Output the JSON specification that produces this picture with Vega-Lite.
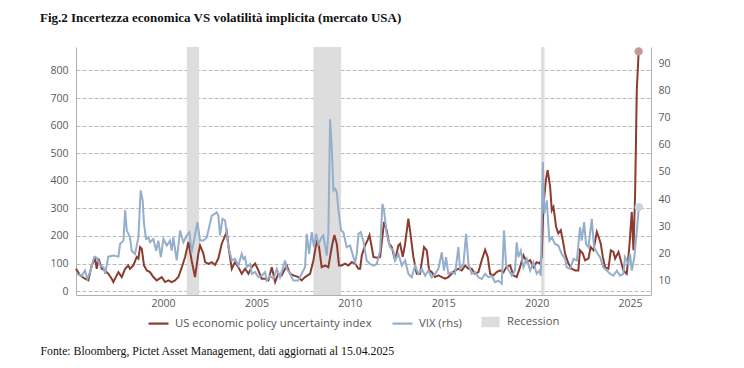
{
  "$schema": "https://vega.github.io/schema/vega-lite/v6.json",
  "width": 575,
  "height": 248,
  "autosize": {"type": "none"},
  "padding": {"left": 76, "top": 47, "right": 93, "bottom": 73},
  "background": "white",
  "title": {
    "text": "Fig.2 Incertezza economica VS volatilità implicita (mercato USA)",
    "anchor": "start",
    "frame": "group",
    "dx": -36,
    "offset": 22,
    "font": "Liberation Serif",
    "fontSize": 13,
    "fontWeight": "bold",
    "color": "#111111"
  },
  "config": {
    "view": {"stroke": null},
    "axis": {
      "labelFont": "Open Sans",
      "labelFontSize": 10.5,
      "labelColor": "#5a5a5a",
      "ticks": false,
      "domainColor": "#b0b0b0",
      "domainWidth": 1,
      "grid": false
    },
    "legend": {
      "orient": "none",
      "legendX": 71,
      "legendY": 263,
      "direction": "horizontal",
      "symbolType": "stroke",
      "symbolSize": 400,
      "symbolStrokeWidth": 2.2,
      "labelFont": "Open Sans",
      "labelFontSize": 11.3,
      "labelColor": "#555555",
      "labelOffset": 5,
      "labelLimit": 300,
      "columnPadding": 16,
      "title": null
    }
  },
  "datasets": {
    "rec": [
      {"t": 2001.27, "t2": 2001.93},
      {"t": 2008.05, "t2": 2009.53},
      {"t": 2020.24, "t2": 2020.42}
    ],
    "epu": [
      {"t": 1995.34, "v": 81}, {"t": 1995.56, "v": 57}, {"t": 1995.82, "v": 45}, {"t": 1996.0, "v": 39},
      {"t": 1996.18, "v": 93}, {"t": 1996.36, "v": 118}, {"t": 1996.45, "v": 81}, {"t": 1996.54, "v": 118},
      {"t": 1996.72, "v": 81}, {"t": 1996.9, "v": 75}, {"t": 1997.07, "v": 63}, {"t": 1997.25, "v": 45},
      {"t": 1997.34, "v": 33}, {"t": 1997.52, "v": 57}, {"t": 1997.61, "v": 69}, {"t": 1997.79, "v": 51},
      {"t": 1997.97, "v": 81}, {"t": 1998.14, "v": 93}, {"t": 1998.23, "v": 81}, {"t": 1998.41, "v": 93},
      {"t": 1998.59, "v": 124}, {"t": 1998.68, "v": 118}, {"t": 1998.77, "v": 160}, {"t": 1998.86, "v": 154},
      {"t": 1998.98, "v": 93}, {"t": 1999.13, "v": 75}, {"t": 1999.3, "v": 69}, {"t": 1999.48, "v": 51},
      {"t": 1999.66, "v": 39}, {"t": 1999.93, "v": 51}, {"t": 2000.11, "v": 33}, {"t": 2000.29, "v": 39},
      {"t": 2000.46, "v": 33}, {"t": 2000.64, "v": 39}, {"t": 2000.82, "v": 51}, {"t": 2001.0, "v": 85},
      {"t": 2001.18, "v": 124}, {"t": 2001.36, "v": 178}, {"t": 2001.53, "v": 111}, {"t": 2001.71, "v": 51},
      {"t": 2001.89, "v": 136}, {"t": 2001.98, "v": 166}, {"t": 2002.16, "v": 136}, {"t": 2002.25, "v": 105},
      {"t": 2002.43, "v": 99}, {"t": 2002.61, "v": 105}, {"t": 2002.78, "v": 95}, {"t": 2002.96, "v": 118},
      {"t": 2003.14, "v": 172}, {"t": 2003.41, "v": 215}, {"t": 2003.53, "v": 148}, {"t": 2003.68, "v": 81},
      {"t": 2003.85, "v": 105}, {"t": 2004.03, "v": 87}, {"t": 2004.21, "v": 63}, {"t": 2004.39, "v": 81},
      {"t": 2004.57, "v": 63}, {"t": 2004.75, "v": 87}, {"t": 2004.93, "v": 100}, {"t": 2005.1, "v": 75},
      {"t": 2005.28, "v": 45}, {"t": 2005.46, "v": 45}, {"t": 2005.64, "v": 39}, {"t": 2005.82, "v": 87},
      {"t": 2006.0, "v": 33}, {"t": 2006.17, "v": 63}, {"t": 2006.35, "v": 57}, {"t": 2006.62, "v": 93},
      {"t": 2006.8, "v": 63}, {"t": 2006.98, "v": 57}, {"t": 2007.24, "v": 51}, {"t": 2007.42, "v": 39},
      {"t": 2007.6, "v": 51}, {"t": 2007.87, "v": 63}, {"t": 2008.05, "v": 112}, {"t": 2008.23, "v": 184},
      {"t": 2008.35, "v": 160}, {"t": 2008.49, "v": 87}, {"t": 2008.67, "v": 93}, {"t": 2008.85, "v": 87},
      {"t": 2009.03, "v": 160}, {"t": 2009.17, "v": 203}, {"t": 2009.3, "v": 172}, {"t": 2009.42, "v": 93},
      {"t": 2009.56, "v": 93}, {"t": 2009.74, "v": 100}, {"t": 2009.92, "v": 93}, {"t": 2010.1, "v": 105},
      {"t": 2010.28, "v": 100}, {"t": 2010.46, "v": 81}, {"t": 2010.55, "v": 81}, {"t": 2010.64, "v": 130},
      {"t": 2010.81, "v": 165}, {"t": 2010.95, "v": 185}, {"t": 2011.05, "v": 203}, {"t": 2011.17, "v": 160},
      {"t": 2011.26, "v": 124}, {"t": 2011.44, "v": 121}, {"t": 2011.62, "v": 124}, {"t": 2011.74, "v": 196},
      {"t": 2011.83, "v": 251}, {"t": 2011.97, "v": 221}, {"t": 2012.1, "v": 172}, {"t": 2012.24, "v": 160},
      {"t": 2012.42, "v": 112}, {"t": 2012.6, "v": 166}, {"t": 2012.69, "v": 172}, {"t": 2012.83, "v": 124},
      {"t": 2012.96, "v": 172}, {"t": 2013.13, "v": 263}, {"t": 2013.22, "v": 221}, {"t": 2013.4, "v": 124},
      {"t": 2013.58, "v": 63}, {"t": 2013.76, "v": 63}, {"t": 2013.97, "v": 160}, {"t": 2014.12, "v": 148},
      {"t": 2014.24, "v": 75}, {"t": 2014.38, "v": 69}, {"t": 2014.56, "v": 51}, {"t": 2014.74, "v": 57},
      {"t": 2014.92, "v": 51}, {"t": 2015.1, "v": 45}, {"t": 2015.27, "v": 51}, {"t": 2015.45, "v": 63},
      {"t": 2015.63, "v": 75}, {"t": 2015.81, "v": 81}, {"t": 2015.99, "v": 75}, {"t": 2016.17, "v": 93},
      {"t": 2016.35, "v": 81}, {"t": 2016.52, "v": 81}, {"t": 2016.7, "v": 63}, {"t": 2016.88, "v": 69},
      {"t": 2017.06, "v": 112}, {"t": 2017.24, "v": 150}, {"t": 2017.38, "v": 124}, {"t": 2017.51, "v": 63},
      {"t": 2017.68, "v": 57}, {"t": 2017.86, "v": 69}, {"t": 2018.04, "v": 75}, {"t": 2018.22, "v": 68},
      {"t": 2018.4, "v": 90}, {"t": 2018.58, "v": 93}, {"t": 2018.75, "v": 57}, {"t": 2018.93, "v": 51},
      {"t": 2019.11, "v": 87}, {"t": 2019.29, "v": 130}, {"t": 2019.47, "v": 105}, {"t": 2019.65, "v": 112},
      {"t": 2019.83, "v": 87}, {"t": 2020.0, "v": 105}, {"t": 2020.18, "v": 100}, {"t": 2020.27, "v": 124},
      {"t": 2020.36, "v": 305}, {"t": 2020.49, "v": 402}, {"t": 2020.59, "v": 439}, {"t": 2020.72, "v": 378},
      {"t": 2020.81, "v": 293}, {"t": 2020.9, "v": 305}, {"t": 2021.04, "v": 233}, {"t": 2021.16, "v": 209},
      {"t": 2021.29, "v": 221}, {"t": 2021.4, "v": 184}, {"t": 2021.52, "v": 136}, {"t": 2021.7, "v": 100},
      {"t": 2021.88, "v": 81}, {"t": 2022.06, "v": 75}, {"t": 2022.23, "v": 75}, {"t": 2022.32, "v": 148},
      {"t": 2022.47, "v": 136}, {"t": 2022.59, "v": 112}, {"t": 2022.77, "v": 118}, {"t": 2022.89, "v": 160},
      {"t": 2023.04, "v": 148}, {"t": 2023.22, "v": 215}, {"t": 2023.32, "v": 196}, {"t": 2023.43, "v": 172},
      {"t": 2023.54, "v": 124}, {"t": 2023.66, "v": 87}, {"t": 2023.84, "v": 81}, {"t": 2023.97, "v": 148},
      {"t": 2024.11, "v": 142}, {"t": 2024.2, "v": 118}, {"t": 2024.38, "v": 142}, {"t": 2024.5, "v": 112},
      {"t": 2024.64, "v": 75}, {"t": 2024.82, "v": 63}, {"t": 2024.96, "v": 160}, {"t": 2025.09, "v": 287},
      {"t": 2025.18, "v": 148}, {"t": 2025.27, "v": 354}, {"t": 2025.36, "v": 730}, {"t": 2025.46, "v": 869}
    ],
    "vix": [
      {"t": 1995.34, "v": 12.5}, {"t": 1995.65, "v": 11.8}, {"t": 1995.82, "v": 13.7}, {"t": 1995.95, "v": 10.6},
      {"t": 1996.09, "v": 13.1}, {"t": 1996.31, "v": 18.6}, {"t": 1996.45, "v": 18.4}, {"t": 1996.63, "v": 15.5},
      {"t": 1996.81, "v": 14.9}, {"t": 1996.9, "v": 12.5}, {"t": 1997.07, "v": 18.8}, {"t": 1997.34, "v": 19.2},
      {"t": 1997.61, "v": 18.8}, {"t": 1997.7, "v": 23.5}, {"t": 1997.88, "v": 24.7}, {"t": 1997.97, "v": 35.8},
      {"t": 1998.06, "v": 28.4}, {"t": 1998.23, "v": 25.9}, {"t": 1998.32, "v": 21.0}, {"t": 1998.5, "v": 19.8},
      {"t": 1998.68, "v": 25.9}, {"t": 1998.8, "v": 43.1}, {"t": 1998.91, "v": 39.5}, {"t": 1998.98, "v": 30.9},
      {"t": 1999.09, "v": 25.3}, {"t": 1999.21, "v": 25.9}, {"t": 1999.3, "v": 24.1}, {"t": 1999.48, "v": 25.3},
      {"t": 1999.63, "v": 21.0}, {"t": 1999.75, "v": 24.7}, {"t": 1999.88, "v": 18.6}, {"t": 2000.02, "v": 25.3},
      {"t": 2000.2, "v": 22.9}, {"t": 2000.37, "v": 24.7}, {"t": 2000.46, "v": 21.0}, {"t": 2000.55, "v": 25.9},
      {"t": 2000.73, "v": 17.4}, {"t": 2000.91, "v": 28.4}, {"t": 2001.09, "v": 24.1}, {"t": 2001.27, "v": 26.6},
      {"t": 2001.41, "v": 27.8}, {"t": 2001.53, "v": 20.4}, {"t": 2001.71, "v": 26.6}, {"t": 2001.84, "v": 31.5},
      {"t": 2001.98, "v": 24.7}, {"t": 2002.16, "v": 24.7}, {"t": 2002.34, "v": 25.9}, {"t": 2002.61, "v": 33.9},
      {"t": 2002.78, "v": 34.6}, {"t": 2002.87, "v": 35.1}, {"t": 2002.96, "v": 33.9}, {"t": 2003.05, "v": 26.6},
      {"t": 2003.18, "v": 32.7}, {"t": 2003.32, "v": 32.1}, {"t": 2003.41, "v": 27.2}, {"t": 2003.5, "v": 22.3},
      {"t": 2003.68, "v": 17.4}, {"t": 2003.85, "v": 18.0}, {"t": 2004.03, "v": 15.5}, {"t": 2004.21, "v": 19.8},
      {"t": 2004.3, "v": 18.0}, {"t": 2004.39, "v": 18.6}, {"t": 2004.48, "v": 14.9}, {"t": 2004.66, "v": 16.1},
      {"t": 2004.75, "v": 12.5}, {"t": 2004.93, "v": 13.1}, {"t": 2005.1, "v": 11.2}, {"t": 2005.28, "v": 11.8},
      {"t": 2005.46, "v": 13.1}, {"t": 2005.55, "v": 10.0}, {"t": 2005.73, "v": 11.8}, {"t": 2005.91, "v": 10.6},
      {"t": 2006.09, "v": 14.3}, {"t": 2006.26, "v": 11.2}, {"t": 2006.53, "v": 17.4}, {"t": 2006.62, "v": 14.3},
      {"t": 2006.8, "v": 12.5}, {"t": 2006.98, "v": 10.0}, {"t": 2007.24, "v": 10.0}, {"t": 2007.42, "v": 12.5},
      {"t": 2007.6, "v": 14.9}, {"t": 2007.69, "v": 27.2}, {"t": 2007.82, "v": 19.8}, {"t": 2007.96, "v": 27.8},
      {"t": 2008.08, "v": 22.3}, {"t": 2008.19, "v": 27.2}, {"t": 2008.32, "v": 23.5}, {"t": 2008.49, "v": 25.9},
      {"t": 2008.58, "v": 26.6}, {"t": 2008.76, "v": 19.2}, {"t": 2008.85, "v": 27.2}, {"t": 2008.94, "v": 69.3},
      {"t": 2009.03, "v": 59.1}, {"t": 2009.12, "v": 43.1}, {"t": 2009.21, "v": 43.8}, {"t": 2009.3, "v": 42.5},
      {"t": 2009.39, "v": 35.8}, {"t": 2009.53, "v": 28.4}, {"t": 2009.65, "v": 27.8}, {"t": 2009.83, "v": 22.3},
      {"t": 2010.01, "v": 22.9}, {"t": 2010.19, "v": 18.6}, {"t": 2010.28, "v": 16.7}, {"t": 2010.37, "v": 19.8},
      {"t": 2010.46, "v": 27.2}, {"t": 2010.58, "v": 27.8}, {"t": 2010.72, "v": 24.7}, {"t": 2010.9, "v": 17.4},
      {"t": 2011.08, "v": 16.1}, {"t": 2011.26, "v": 15.5}, {"t": 2011.44, "v": 16.1}, {"t": 2011.62, "v": 21.0},
      {"t": 2011.74, "v": 38.2}, {"t": 2011.83, "v": 35.8}, {"t": 2011.97, "v": 27.2}, {"t": 2012.15, "v": 22.3},
      {"t": 2012.33, "v": 21.0}, {"t": 2012.42, "v": 17.4}, {"t": 2012.6, "v": 19.8}, {"t": 2012.78, "v": 15.5},
      {"t": 2012.96, "v": 17.4}, {"t": 2013.13, "v": 12.5}, {"t": 2013.31, "v": 11.2}, {"t": 2013.49, "v": 15.5},
      {"t": 2013.67, "v": 12.5}, {"t": 2013.85, "v": 14.3}, {"t": 2014.03, "v": 11.8}, {"t": 2014.2, "v": 13.7},
      {"t": 2014.38, "v": 11.2}, {"t": 2014.56, "v": 12.5}, {"t": 2014.74, "v": 14.3}, {"t": 2014.92, "v": 20.4},
      {"t": 2015.04, "v": 13.7}, {"t": 2015.15, "v": 18.6}, {"t": 2015.27, "v": 12.5}, {"t": 2015.45, "v": 13.1},
      {"t": 2015.63, "v": 12.5}, {"t": 2015.81, "v": 22.3}, {"t": 2015.9, "v": 14.3}, {"t": 2016.08, "v": 16.1},
      {"t": 2016.22, "v": 27.2}, {"t": 2016.35, "v": 16.1}, {"t": 2016.52, "v": 12.5}, {"t": 2016.7, "v": 13.1},
      {"t": 2016.88, "v": 11.2}, {"t": 2017.06, "v": 10.6}, {"t": 2017.24, "v": 12.5}, {"t": 2017.42, "v": 11.2},
      {"t": 2017.59, "v": 11.8}, {"t": 2017.77, "v": 9.4}, {"t": 2017.95, "v": 10.0}, {"t": 2018.13, "v": 8.8},
      {"t": 2018.25, "v": 28.4}, {"t": 2018.36, "v": 16.1}, {"t": 2018.49, "v": 14.0}, {"t": 2018.67, "v": 11.8},
      {"t": 2018.84, "v": 13.7}, {"t": 2018.93, "v": 24.1}, {"t": 2019.02, "v": 18.6}, {"t": 2019.15, "v": 21.0},
      {"t": 2019.29, "v": 14.9}, {"t": 2019.47, "v": 18.0}, {"t": 2019.65, "v": 13.7}, {"t": 2019.83, "v": 16.7},
      {"t": 2020.0, "v": 12.5}, {"t": 2020.15, "v": 13.7}, {"t": 2020.22, "v": 11.8}, {"t": 2020.33, "v": 53.6},
      {"t": 2020.41, "v": 34.6}, {"t": 2020.54, "v": 39.5}, {"t": 2020.68, "v": 24.7}, {"t": 2020.81, "v": 25.9},
      {"t": 2020.98, "v": 23.5}, {"t": 2021.16, "v": 22.9}, {"t": 2021.34, "v": 19.8}, {"t": 2021.52, "v": 18.0},
      {"t": 2021.61, "v": 14.9}, {"t": 2021.79, "v": 14.3}, {"t": 2021.97, "v": 18.0}, {"t": 2022.15, "v": 17.4},
      {"t": 2022.32, "v": 29.6}, {"t": 2022.41, "v": 24.7}, {"t": 2022.54, "v": 31.5}, {"t": 2022.64, "v": 23.5},
      {"t": 2022.77, "v": 22.3}, {"t": 2022.95, "v": 32.7}, {"t": 2023.07, "v": 22.3}, {"t": 2023.22, "v": 20.4},
      {"t": 2023.39, "v": 18.6}, {"t": 2023.57, "v": 14.9}, {"t": 2023.75, "v": 13.7}, {"t": 2023.93, "v": 12.5},
      {"t": 2024.11, "v": 11.8}, {"t": 2024.29, "v": 13.7}, {"t": 2024.46, "v": 11.8}, {"t": 2024.64, "v": 12.5},
      {"t": 2024.73, "v": 18.6}, {"t": 2024.91, "v": 16.1}, {"t": 2025.0, "v": 19.8}, {"t": 2025.09, "v": 13.7},
      {"t": 2025.23, "v": 18.6}, {"t": 2025.36, "v": 28.4}, {"t": 2025.47, "v": 37.0}
    ]
  },
  "resolve": {"scale": {"y": "independent"}, "axis": {"y": "independent"}},
  "layer": [
    {
      "data": {"name": "rec"},
      "mark": {"type": "rect"},
      "encoding": {
        "x": {
          "field": "t", "type": "quantitative",
          "scale": {"domain": [1995.34, 2026.12], "nice": false, "zero": false},
          "axis": {
            "values": [2000, 2005, 2010, 2015, 2020, 2025], "format": "d", "labelPadding": 3,
            "title": "Fonte: Bloomberg, Pictet Asset Management, dati aggiornati al 15.04.2025",
            "titleFont": "Liberation Serif", "titleFontSize": 11.8, "titleFontWeight": "normal", "titleColor": "#111111",
            "titleAnchor": "start", "titleAlign": "left", "titleX": -36, "titleY": 59, "titleBaseline": "alphabetic"
          }
        },
        "x2": {"field": "t2"},
        "color": {
          "datum": "Recession",
          "scale": {
            "domain": ["US economic policy uncertainty index", "VIX (rhs)", "Recession"],
            "range": ["#8c3b2f", "#94aecb", "#dddddd"]
          },
          "legend": {
            "encode": {
              "symbols": {
                "update": {
                  "shape": {"signal": "datum.value === 'Recession' ? 'M-0.8,-0.42H0.8V0.42H-0.8Z' : 'stroke'"},
                  "fill": {"signal": "datum.value === 'Recession' ? '#dddddd' : 'transparent'"},
                  "stroke": {"signal": "datum.value === 'Recession' ? 'transparent' : scale('color', datum.value)"},
                  "strokeWidth": {"value": 2.2},
                  "opacity": {"value": 1}
                }
              }
            }
          }
        }
      }
    },
    {
      "data": {"name": "epu"},
      "encoding": {
        "x": {"field": "t", "type": "quantitative", "scale": {"domain": [1995.34, 2026.12], "nice": false, "zero": false}},
        "y": {
          "field": "v", "type": "quantitative",
          "scale": {"domain": [-14, 885], "nice": false, "zero": false},
          "axis": {
            "orient": "left", "values": [0, 100, 200, 300, 400, 500, 600, 700, 800], "title": null,
            "grid": true, "gridDash": [4, 2], "gridColor": "#a8a8a8", "gridWidth": 0.8, "labelPadding": 8
          }
        }
      },
      "layer": [
        {
          "mark": {"type": "line", "strokeWidth": 2, "interpolate": "linear"},
          "encoding": {"color": {"datum": "US economic policy uncertainty index"}}
        },
        {
          "transform": [{"filter": "datum.t > 2025.4"}],
          "mark": {"type": "circle", "size": 70, "color": "#c49b94", "opacity": 1}
        }
      ]
    },
    {
      "data": {"name": "vix"},
      "encoding": {
        "x": {"field": "t", "type": "quantitative", "scale": {"domain": [1995.34, 2026.12], "nice": false, "zero": false}},
        "y": {
          "field": "v", "type": "quantitative",
          "scale": {"domain": [4.7, 95.9], "nice": false, "zero": false},
          "axis": {
            "orient": "right", "values": [10, 20, 30, 40, 50, 60, 70, 80, 90], "title": null,
            "grid": false, "labelPadding": 7
          }
        }
      },
      "layer": [
        {
          "mark": {"type": "line", "strokeWidth": 2, "interpolate": "linear"},
          "encoding": {"color": {"datum": "VIX (rhs)"}}
        },
        {
          "transform": [{"filter": "datum.t > 2025.4"}],
          "mark": {"type": "circle", "size": 70, "color": "#c5d4e6", "opacity": 1}
        }
      ]
    }
  ]
}
